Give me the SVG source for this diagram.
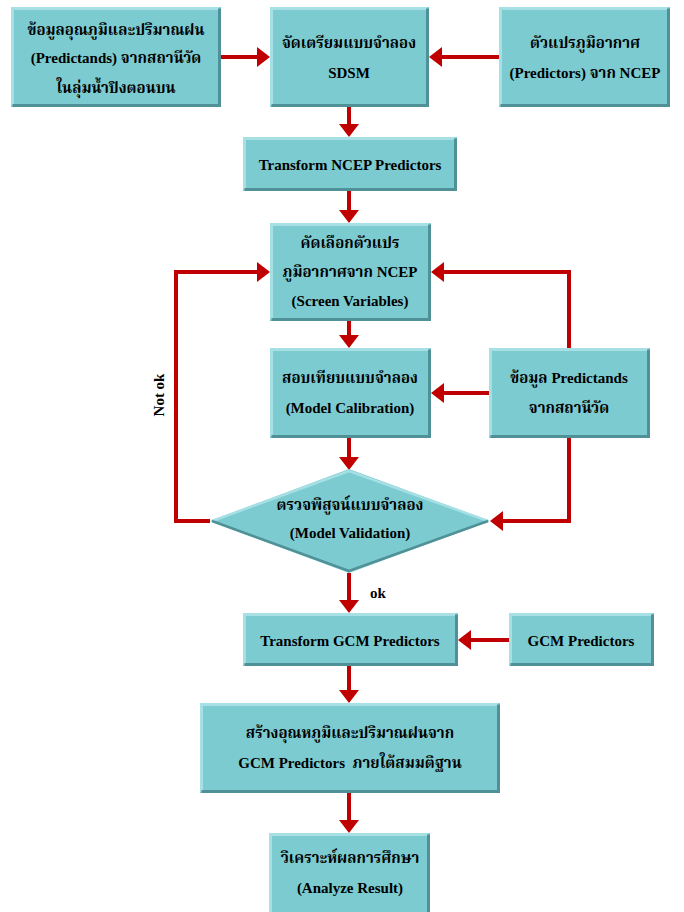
<svg xmlns="http://www.w3.org/2000/svg" width="684" height="912" viewBox="0 0 684 912">
<defs>
<style>
.box{fill:#7ccbd1}
.hi{fill:none;stroke:#a6e0e4;stroke-width:3}
.lo{fill:none;stroke:#4f9197;stroke-width:3}
.t{font-family:"Liberation Serif","Noto Serif Thai","Noto Sans Thai",serif;font-weight:bold;font-size:15px;text-anchor:middle;fill:#000}
.e{font-family:"Liberation Serif",serif}
.c{fill:none;stroke:#c00000;stroke-width:4}
</style>
<marker id="ah" markerUnits="userSpaceOnUse" markerWidth="14" markerHeight="20" refX="5" refY="10" orient="auto">
<path d="M0,0 L13,10 L0,20 z" fill="#c00000"/>
</marker>
</defs>
<rect width="684" height="912" fill="#fff"/>

<g id="connectors">
<path class="c" d="M221,57 H262" marker-end="url(#ah)"/>
<path class="c" d="M500,57 H437" marker-end="url(#ah)"/>
<path class="c" d="M349,107 V129" marker-end="url(#ah)"/>
<path class="c" d="M349,191 V215" marker-end="url(#ah)"/>
<path class="c" d="M349,321 V340" marker-end="url(#ah)"/>
<path class="c" d="M489,393 H439" marker-end="url(#ah)"/>
<path class="c" d="M569,348 V272 H439" marker-end="url(#ah)"/>
<path class="c" d="M569,438 V521 H498" marker-end="url(#ah)"/>
<path class="c" d="M349,438 V462" marker-end="url(#ah)"/>
<path class="c" d="M210,521 H176 V272 H262" marker-end="url(#ah)"/>
<path class="c" d="M349,573 V605" marker-end="url(#ah)"/>
<path class="c" d="M509,640 H466" marker-end="url(#ah)"/>
<path class="c" d="M349,666 V695" marker-end="url(#ah)"/>
<path class="c" d="M349,793 V825" marker-end="url(#ah)"/>
</g>

<g id="n1">
<rect class="box" x="11" y="7" width="210" height="100"/>
<path class="hi" d="M12.5,105.5 V8.5 H219.5"/><path class="lo" d="M12.5,105.5 H219.5 V8.5"/>
<text class="t" x="116" y="35">ข้อมูลอุณภูมิและปริมาณฝน</text>
<text class="t" x="116" y="63"><tspan class="e">(Predictands)</tspan> จากสถานีวัด</text>
<text class="t" x="116" y="93">ในลุ่มน้ำปิงตอนบน</text>
</g>

<g id="n2">
<rect class="box" x="270" y="7" width="159" height="100"/>
<path class="hi" d="M271.5,105.5 V8.5 H427.5"/><path class="lo" d="M271.5,105.5 H427.5 V8.5"/>
<text class="t" x="349" y="48">จัดเตรียมแบบจำลอง</text>
<text class="t e" x="349" y="78">SDSM</text>
</g>

<g id="n3">
<rect class="box" x="499" y="7" width="171" height="100"/>
<path class="hi" d="M500.5,105.5 V8.5 H668.5"/><path class="lo" d="M500.5,105.5 H668.5 V8.5"/>
<text class="t" x="585" y="48">ตัวแปรภูมิอากาศ</text>
<text class="t" x="585" y="78"><tspan class="e">(Predictors)</tspan> จาก <tspan class="e">NCEP</tspan></text>
</g>

<g id="n4">
<rect class="box" x="243" y="137" width="214" height="54"/>
<path class="hi" d="M244.5,189.5 V138.5 H455.5"/><path class="lo" d="M244.5,189.5 H455.5 V138.5"/>
<text class="t e" x="350" y="170">Transform NCEP Predictors</text>
</g>

<g id="n5">
<rect class="box" x="270" y="223" width="161" height="98"/>
<path class="hi" d="M271.5,319.5 V224.5 H429.5"/><path class="lo" d="M271.5,319.5 H429.5 V224.5"/>
<text class="t" x="350" y="248">คัดเลือกตัวแปร</text>
<text class="t" x="350" y="277">ภูมิอากาศจาก <tspan class="e">NCEP</tspan></text>
<text class="t e" x="350" y="306">(Screen Variables)</text>
</g>

<g id="n6">
<rect class="box" x="270" y="348" width="161" height="90"/>
<path class="hi" d="M271.5,436.5 V349.5 H429.5"/><path class="lo" d="M271.5,436.5 H429.5 V349.5"/>
<text class="t" x="350" y="383">สอบเทียบแบบจำลอง</text>
<text class="t e" x="350" y="413">(Model Calibration)</text>
</g>

<g id="n7">
<rect class="box" x="489" y="348" width="161" height="90"/>
<path class="hi" d="M490.5,436.5 V349.5 H648.5"/><path class="lo" d="M490.5,436.5 H648.5 V349.5"/>
<text class="t" x="569" y="383">ข้อมูล <tspan class="e">Predictands</tspan></text>
<text class="t" x="569" y="413">จากสถานีวัด</text>
</g>

<g id="n8">
<polygon class="box" points="210,521 349,469 490,521 349,573"/>
<path fill="none" stroke="#a6e0e4" stroke-width="2.5" d="M212,521 L349,471 L488,521"/>
<path fill="none" stroke="#4f9197" stroke-width="2.5" d="M212,521 L349,571 L488,521"/>
<text class="t" x="350" y="510">ตรวจพิสูจน์แบบจำลอง</text>
<text class="t e" x="350" y="538">(Model Validation)</text>
</g>

<text class="t e" x="0" y="0" transform="translate(164,395) rotate(-90)">Not ok</text>
<text class="t e" x="378" y="598">ok</text>

<g id="n9">
<rect class="box" x="243" y="613" width="215" height="53"/>
<path class="hi" d="M244.5,664.5 V614.5 H456.5"/><path class="lo" d="M244.5,664.5 H456.5 V614.5"/>
<text class="t e" x="350" y="646">Transform GCM Predictors</text>
</g>

<g id="n10">
<rect class="box" x="509" y="613" width="145" height="53"/>
<path class="hi" d="M510.5,664.5 V614.5 H652.5"/><path class="lo" d="M510.5,664.5 H652.5 V614.5"/>
<text class="t e" x="581" y="646">GCM Predictors</text>
</g>

<g id="n11">
<rect class="box" x="200" y="703" width="300" height="90"/>
<path class="hi" d="M201.5,791.5 V704.5 H498.5"/><path class="lo" d="M201.5,791.5 H498.5 V704.5"/>
<text class="t" x="350" y="738">สร้างอุณหภูมิและปริมาณฝนจาก</text>
<text class="t" x="350" y="768"><tspan class="e">GCM Predictors</tspan>&#160; ภายใต้สมมติฐาน</text>
</g>

<g id="n12">
<rect class="box" x="269" y="833" width="161" height="79"/>
<path class="hi" d="M270.5,912 V834.5 H428.5"/><path class="lo" d="M428.5,834.5 V912"/>
<text class="t" x="350" y="863">วิเคราะห์ผลการศึกษา</text>
<text class="t e" x="350" y="893">(Analyze Result)</text>
</g>
</svg>
